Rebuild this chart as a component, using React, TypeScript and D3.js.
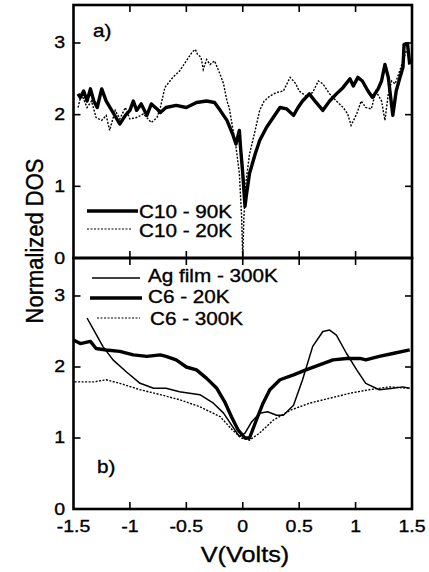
import React from "react";
import * as d3 from "d3";

// ---- data ----
const X_TICKS = [-1.5, -1, -0.5, 0, 0.5, 1, 1.5];
const Y_TICKS = [0, 1, 2, 3];
const X_TICK_LABELS = ["-1.5", "-1", "-0.5", "0", "0.5", "1", "1.5"];
const Y_TICK_LABELS = ["0", "1", "2", "3"];

// panel a)
const C10_90K: [number, number][] = [
  [-1.46, 2.29], [-1.44, 2.24], [-1.41, 2.33], [-1.38, 2.19], [-1.35, 2.36], [-1.32, 2.19],
  [-1.29, 2.1], [-1.25, 2.36], [-1.21, 2.19], [-1.15, 2.03], [-1.09, 1.87], [-1.04, 1.99],
  [-1.0, 2.06], [-0.97, 2.19], [-0.94, 2.06], [-0.9, 2.15], [-0.85, 1.99], [-0.81, 2.15],
  [-0.76, 2.08], [-0.73, 2.03], [-0.68, 2.1], [-0.59, 2.13], [-0.5, 2.1], [-0.41, 2.17],
  [-0.32, 2.19], [-0.25, 2.17], [-0.2, 2.06], [-0.14, 1.92], [-0.09, 1.73], [-0.06, 1.59],
  [-0.03, 1.78], [-0.02, 1.55], [0.0, 1.18], [0.02, 0.72], [0.03, 0.85], [0.06, 1.18],
  [0.11, 1.45], [0.15, 1.64], [0.21, 1.82], [0.27, 1.96], [0.33, 2.1], [0.39, 2.08],
  [0.45, 1.99], [0.49, 2.1], [0.53, 2.19], [0.59, 2.29], [0.65, 2.17], [0.71, 2.06],
  [0.77, 2.19], [0.83, 2.29], [0.89, 2.38], [0.95, 2.5], [0.98, 2.4], [1.02, 2.52],
  [1.06, 2.47], [1.11, 2.33], [1.15, 2.24], [1.2, 2.36], [1.23, 2.47], [1.26, 2.7],
  [1.29, 2.52], [1.33, 1.99], [1.36, 2.33], [1.39, 2.5], [1.42, 2.66], [1.43, 2.98],
  [1.46, 2.99], [1.48, 2.7],
];
const C10_20K: [number, number][] = [
  [-1.46, 2.1], [-1.43, 2.29], [-1.38, 2.1], [-1.34, 2.19], [-1.3, 1.96], [-1.25, 1.92],
  [-1.21, 1.99], [-1.18, 1.78], [-1.13, 2.06], [-1.09, 1.94], [-1.04, 2.1], [-1.0, 1.94],
  [-0.94, 1.96], [-0.88, 2.01], [-0.81, 1.89], [-0.76, 1.96], [-0.73, 2.1], [-0.69, 2.38],
  [-0.62, 2.52], [-0.56, 2.61], [-0.5, 2.75], [-0.45, 2.87], [-0.42, 2.91], [-0.4, 2.84],
  [-0.37, 2.8], [-0.35, 2.63], [-0.32, 2.77], [-0.29, 2.7], [-0.25, 2.75], [-0.2, 2.56],
  [-0.17, 2.43], [-0.14, 2.19], [-0.12, 2.1], [-0.09, 1.82], [-0.06, 1.55], [-0.03, 1.18],
  [-0.01, 0.57], [0.0, 0.0], [0.01, 0.57], [0.03, 1.08], [0.06, 1.45], [0.11, 1.78],
  [0.15, 2.06], [0.19, 2.19], [0.24, 2.26], [0.3, 2.31], [0.36, 2.33], [0.42, 2.52],
  [0.45, 2.47], [0.47, 2.43], [0.5, 2.33], [0.56, 2.26], [0.62, 2.31], [0.67, 2.47],
  [0.71, 2.43], [0.77, 2.29], [0.83, 2.19], [0.89, 2.1], [0.93, 2.01], [0.96, 1.85],
  [1.01, 2.01], [1.05, 2.19], [1.09, 2.1], [1.14, 2.08], [1.18, 2.33], [1.23, 2.19],
  [1.26, 1.92], [1.29, 2.29], [1.32, 2.47], [1.35, 2.43], [1.38, 2.56], [1.42, 2.75],
  [1.45, 2.89],
];

// panel b)
const AG_300K: [number, number][] = [
  [-1.38, 2.69], [-1.32, 2.52], [-1.24, 2.29], [-1.15, 2.1], [-1.03, 1.93], [-0.91, 1.77],
  [-0.79, 1.7], [-0.68, 1.7], [-0.56, 1.65], [-0.38, 1.61], [-0.26, 1.49], [-0.17, 1.35],
  [-0.09, 1.16], [-0.03, 1.02], [0.02, 1.07], [0.08, 1.23], [0.15, 1.35], [0.22, 1.37],
  [0.3, 1.32], [0.36, 1.32], [0.45, 1.46], [0.53, 1.82], [0.62, 2.29], [0.71, 2.5],
  [0.77, 2.52], [0.83, 2.45], [0.92, 2.19], [1.01, 1.96], [1.09, 1.77], [1.21, 1.68],
  [1.33, 1.7], [1.42, 1.72], [1.48, 1.7],
];
const C6_20K: [number, number][] = [
  [-1.5, 2.38], [-1.44, 2.33], [-1.35, 2.36], [-1.3, 2.26], [-1.21, 2.24], [-1.09, 2.22],
  [-0.97, 2.17], [-0.85, 2.15], [-0.73, 2.17], [-0.68, 2.15], [-0.59, 2.1], [-0.5, 2.0],
  [-0.41, 1.96], [-0.32, 1.84], [-0.23, 1.7], [-0.16, 1.51], [-0.1, 1.3], [-0.04, 1.11],
  [0.02, 1.0], [0.06, 1.0], [0.12, 1.25], [0.18, 1.49], [0.24, 1.68], [0.33, 1.82],
  [0.45, 1.89], [0.56, 1.96], [0.68, 2.03], [0.8, 2.1], [0.92, 2.12], [1.04, 2.12],
  [1.09, 2.1], [1.21, 2.15], [1.33, 2.19], [1.48, 2.24],
];
const C6_300K: [number, number][] = [
  [-1.49, 1.79], [-1.32, 1.79], [-1.21, 1.82], [-1.09, 1.77], [-0.91, 1.68], [-0.73, 1.61],
  [-0.56, 1.54], [-0.38, 1.44], [-0.2, 1.3], [-0.09, 1.11], [-0.01, 1.0], [0.06, 0.97],
  [0.15, 1.07], [0.27, 1.25], [0.42, 1.39], [0.59, 1.49], [0.77, 1.56], [0.95, 1.63],
  [1.12, 1.68], [1.3, 1.72], [1.48, 1.7],
];

const LEGEND_A = ["C10 - 90K", "C10 - 20K"];
const LEGEND_B = ["Ag film - 300K", "C6 - 20K", "C6 - 300K"];

// ---- layout ----
const W = 429;
const H = 572;
const LEFT = 73.5;
const RIGHT = 412;
const A_TOP = 5;
const A_BOT = 258;
const B_TOP = 258;
const B_BOT = 509;
const FONT = "'Liberation Sans', Arial, Helvetica, sans-serif";
const SX = 1.15;

const x = d3.scaleLinear().domain([-1.5, 1.5]).range([LEFT, RIGHT]);
const yA = d3.scaleLinear().domain([0, 3.53]).range([A_BOT, A_TOP]);
const yB = d3.scaleLinear().domain([0, 3.535]).range([B_BOT, B_TOP]);

const lineA = d3.line<[number, number]>().x((d) => x(d[0])).y((d) => yA(d[1]));
const lineB = d3.line<[number, number]>().x((d) => x(d[0])).y((d) => yB(d[1]));

function T({ x: tx, y: ty, size, anchor = "start", children }: any) {
  return (
    <text
      transform={`translate(${tx},${ty}) scale(${SX},1)`}
      fontSize={size}
      textAnchor={anchor}
      fontFamily={FONT}
      fill="#000"
      stroke="#000"
      strokeWidth={0.35}
    >
      {children}
    </text>
  );
}

const THICK = { stroke: "#000", strokeWidth: 3.4, fill: "none", strokeLinejoin: "round" as const };
const THIN = { stroke: "#000", strokeWidth: 1.5, fill: "none", strokeLinejoin: "round" as const };
const DOT = { stroke: "#000", strokeWidth: 1.4, fill: "none", strokeDasharray: "2,1.5" };

function Panel({ y, top, bot }: any) {
  const TL = 7;
  return (
    <g>
      {X_TICKS.slice(1, -1).map((t) => (
        <g key={"x" + t}>
          <line x1={x(t)} x2={x(t)} y1={top} y2={top + TL} stroke="#000" strokeWidth={1.6} />
          <line x1={x(t)} x2={x(t)} y1={bot} y2={bot - TL} stroke="#000" strokeWidth={1.6} />
        </g>
      ))}
      {Y_TICKS.slice(1).map((t) => (
        <g key={"y" + t}>
          <line x1={LEFT} x2={LEFT + TL} y1={y(t)} y2={y(t)} stroke="#000" strokeWidth={1.6} />
          <line x1={RIGHT} x2={RIGHT - TL} y1={y(t)} y2={y(t)} stroke="#000" strokeWidth={1.6} />
        </g>
      ))}
      {Y_TICKS.map((t, i) => (
        <T key={"yl" + t} x={65} y={y(t) + 5.5} size={17} anchor="end">
          {Y_TICK_LABELS[i]}
        </T>
      ))}
    </g>
  );
}

export default function App() {
  return (
    <div style={{ position: "absolute", left: 0, top: 0, width: W, height: H, background: "#fff" }}>
      <svg width={W} height={H} viewBox={`0 0 ${W} ${H}`} style={{ display: "block" }}>
        <rect x={0} y={0} width={W} height={H} fill="#fff" />
        {/* curves */}
        <path d={lineA(C10_20K) || ""} {...DOT} />
        <path d={lineA(C10_90K) || ""} {...THICK} />
        <path d={lineB(C6_300K) || ""} {...DOT} />
        <path d={lineB(AG_300K) || ""} {...THIN} />
        <path d={lineB(C6_20K) || ""} {...THICK} />

        <Panel y={yA} top={A_TOP} bot={A_BOT} />
        <Panel y={yB} top={B_TOP} bot={B_BOT} />

        {/* frames */}
        <rect x={LEFT} y={A_TOP} width={RIGHT - LEFT} height={A_BOT - A_TOP} fill="none" stroke="#000" strokeWidth={2.6} />
        <rect x={LEFT} y={B_TOP} width={RIGHT - LEFT} height={B_BOT - B_TOP} fill="none" stroke="#000" strokeWidth={2.6} />

        {/* x tick labels */}
        {X_TICKS.map((t, i) => (
          <T key={"xl" + t} x={x(t)} y={532} size={17} anchor="middle">
            {X_TICK_LABELS[i]}
          </T>
        ))}

        {/* axis titles */}
        <T x={245} y={562} size={22} anchor="middle">V(Volts)</T>
        <text
          transform={`translate(43,241) scale(1.12,1) rotate(-90)`}
          fontSize={22}
          textAnchor="middle"
          fontFamily={FONT}
          stroke="#000"
          strokeWidth={0.35}
        >
          Normalized DOS
        </text>

        {/* panel labels */}
        <T x={93} y={37} size={18}>a)</T>
        <T x={97} y={473} size={18}>b)</T>

        {/* legend a */}
        <line x1={87} x2={138} y1={211} y2={211} {...THICK} />
        <T x={139} y={218} size={18}>{LEGEND_A[0]}</T>
        <line x1={87} x2={132} y1={229} y2={229} {...DOT} strokeWidth={1.2} />
        <T x={139} y={237} size={18}>{LEGEND_A[1]}</T>

        {/* legend b */}
        <line x1={92} x2={140} y1={278} y2={278} {...THIN} />
        <T x={148} y={282} size={18}>{LEGEND_B[0]}</T>
        <line x1={90} x2={142} y1={298} y2={298} {...THICK} />
        <T x={148} y={303} size={18}>{LEGEND_B[1]}</T>
        <line x1={97} x2={140} y1={318} y2={318} {...DOT} strokeWidth={1.2} />
        <T x={150} y={325} size={18}>{LEGEND_B[2]}</T>
      </svg>
    </div>
  );
}
